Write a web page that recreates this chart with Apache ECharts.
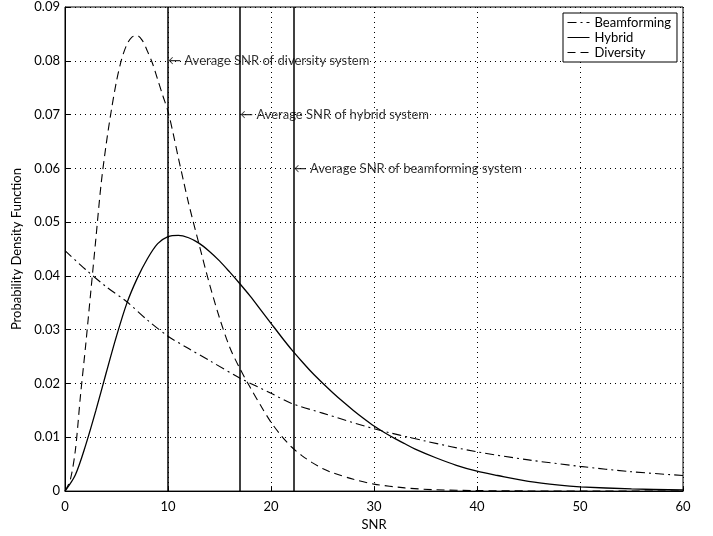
<!DOCTYPE html>
<html>
<head>
<meta charset="utf-8">
<script src="https://cdn.jsdelivr.net/npm/echarts@6/dist/echarts.min.js"></script>
<style>html,body{margin:0;padding:0;background:#fff;}#c{width:713px;height:536px;}</style>
</head>
<body>
<div id="c"></div>
<script>
// ---- data ----
var xTicks = [0, 10, 20, 30, 40, 50, 60];
var yTicks = [0, 0.01, 0.02, 0.03, 0.04, 0.05, 0.06, 0.07, 0.08, 0.09];

var diversityX = [0,0.5,1,1.5,2,2.5,3,3.5,4,4.5,5,5.5,6,6.5,7,7.5,8,8.5,9,9.5,10,10.5,11,11.5,12,13,14,15,16,17,18,19,20,21,22,23,24,25,26,28,30,33,36,40,45,50,60];
var diversityY = [0,0.002,0.0075,0.0177,0.027,0.037,0.047,0.057,0.0645,0.0708,0.0762,0.0803,0.083,0.0844,0.0847,0.0838,0.0818,0.0795,0.0765,0.0735,0.0706,0.0665,0.062,0.0577,0.0535,0.046,0.0387,0.0322,0.0267,0.0227,0.0192,0.0159,0.0128,0.0103,0.0082,0.0066,0.0053,0.0042,0.0034,0.0022,0.0013,0.0006,0.00025,0.0001,0.00003,0,0];

var hybridX = [0,1,2,3,4,5,6,7,8,9,10,11,12,13,14,15,16,17,18,19,20,21,22,23,24,25,26,27,28,29,30,31,32,33,34,36,38,40,42,45,48,50,55,60];
var hybridY = [0,0.003,0.0085,0.015,0.022,0.0288,0.0349,0.0395,0.0432,0.046,0.0473,0.04755,0.0471,0.0461,0.0446,0.0428,0.0407,0.0385,0.0362,0.0337,0.0312,0.0287,0.0263,0.0241,0.022,0.0201,0.0183,0.0166,0.015,0.0135,0.0121,0.0109,0.0098,0.0088,0.0078,0.0062,0.0048,0.0037,0.0029,0.0018,0.0011,0.0008,0.0004,0.0002];

var beamX = [0,2,4,6,8,10,12,14,17,20,22,25,30,35,40,45,50,55,60];
var beamY = [0.0447,0.0412,0.038,0.0352,0.0318,0.0288,0.0265,0.0243,0.021,0.0182,0.0163,0.0145,0.0116,0.0093,0.0073,0.0058,0.0046,0.0036,0.0029];

var avgSNR = [10, 17, 22.2];
var avgLabelY = [0.08, 0.07, 0.06];
var avgLabels = ['\u2190 Average SNR of diversity system', '\u2190 Average SNR of hybrid system', '\u2190 Average SNR of beamforming system'];

function pairs(xs, ys) { return xs.map(function (x, i) { return [x, ys[i]]; }); }

var FONT = 'Lato';
var FS = 13;
var chart = echarts.init(document.getElementById('c'));

var vLines = avgSNR.map(function (x) {
  return [{ coord: [x, 0] }, { coord: [x, 0.09] }];
});
var annot = avgSNR.map(function (x, i) { return [x, avgLabelY[i]]; });

chart.setOption({
  animation: false,
  backgroundColor: '#fff',
  grid: { left: 65, right: 30, top: 7, bottom: 40, show: true, borderColor: '#000', borderWidth: 1 },
  legend: {
    orient: 'vertical', left: 563, top: 13,
    backgroundColor: '#fff', borderColor: '#000', borderWidth: 1, borderRadius: 0,
    padding: [3, 6, 3, 4], itemGap: 2, itemWidth: 22, itemHeight: 13,
    itemStyle: { opacity: 0 },
    lineStyle: { width: 1 },
    textStyle: { fontFamily: FONT, fontSize: FS, color: '#000' },
    data: ['Beamforming', 'Hybrid', 'Diversity']
  },
  xAxis: {
    type: 'value', min: 0, max: 60, interval: 10,
    name: 'SNR', nameLocation: 'middle', nameGap: 24,
    nameTextStyle: { fontFamily: FONT, fontSize: FS, color: '#000' },
    axisLine: { show: true, lineStyle: { color: '#000', width: 1 } },
    axisTick: { show: true, inside: true, length: 5, lineStyle: { color: '#000' } },
    axisLabel: { fontFamily: FONT, fontSize: FS, color: '#000', margin: 9 },
    splitLine: { show: true, lineStyle: { color: '#000', type: [1, 4], width: 1 } }
  },
  yAxis: {
    type: 'value', min: 0, max: 0.09, interval: 0.01,
    name: 'Probability Density Function', nameLocation: 'middle', nameGap: 40,
    nameTextStyle: { fontFamily: FONT, fontSize: FS, color: '#000' },
    axisLine: { show: true, lineStyle: { color: '#000', width: 1 } },
    axisTick: { show: true, inside: true, length: 5, lineStyle: { color: '#000' } },
    axisLabel: { fontFamily: FONT, fontSize: FS, color: '#000', margin: 5,
      formatter: function (v) { return v === 0 ? '0' : v.toFixed(2); } },
    splitLine: { show: true, lineStyle: { color: '#000', type: [1, 4], width: 1 } }
  },
  series: [
    {
      name: 'Beamforming', type: 'line', data: pairs(beamX, beamY),
      showSymbol: false, symbol: 'none', smooth: 0.3, color: '#000',
      lineStyle: { color: '#000', width: 1.1, type: [9, 4, 2, 4] }
    },
    {
      name: 'Hybrid', type: 'line', data: pairs(hybridX, hybridY),
      showSymbol: false, symbol: 'none', smooth: 0.3, color: '#000',
      lineStyle: { color: '#000', width: 1.3, type: 'solid' },
      markLine: {
        silent: true, symbol: 'none', label: { show: false },
        lineStyle: { color: '#000', width: 1.5, type: 'solid' },
        data: vLines
      }
    },
    {
      name: 'Diversity', type: 'line', data: pairs(diversityX, diversityY),
      showSymbol: false, symbol: 'none', smooth: 0.3, color: '#000',
      lineStyle: { color: '#000', width: 1.1, type: [8, 5] }
    },
    {
      name: 'annot', type: 'scatter', data: annot, symbolSize: 0, silent: true,
      label: {
        show: true, position: 'right', distance: 0, color: '#000',
        fontFamily: FONT, fontSize: FS,
        formatter: function (p) { return avgLabels[p.dataIndex]; }
      }
    }
  ]
});
</script>
</body>
</html>
